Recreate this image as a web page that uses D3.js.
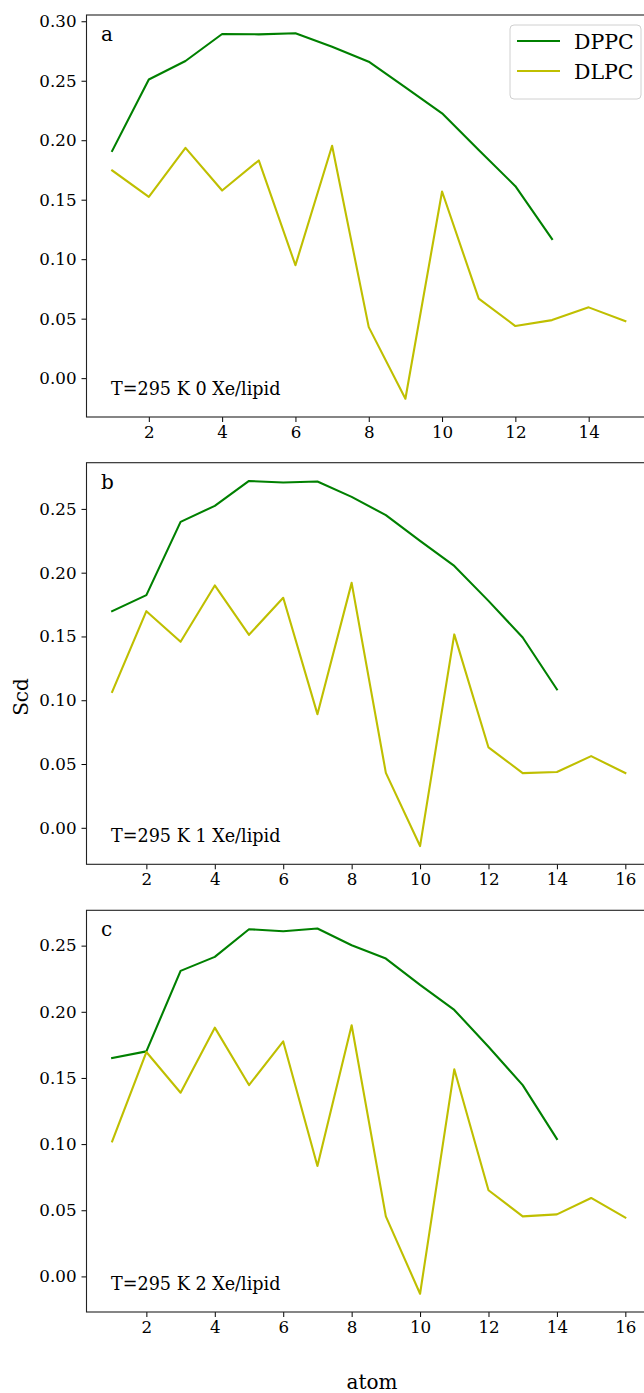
<!DOCTYPE html>
<html>
<head>
<meta charset="utf-8">
<script src="https://cdn.jsdelivr.net/npm/d3@7"></script>
<style>
  html, body { margin: 0; padding: 0; background: #fff; }
  svg { display: block; }
  text { font-family: "DejaVu Serif", serif; fill: #000; }
</style>
</head>
<body>
<svg id="fig" width="644" height="1393"></svg>
<script>
// Order parameter Scd per carbon atom, DPPC vs DLPC, three Xe loadings
const panelLabels = ["a", "b", "c"];
const conditions = ["T=295 K 0 Xe/lipid", "T=295 K 1 Xe/lipid", "T=295 K 2 Xe/lipid"];
const seriesNames = ["DPPC", "DLPC"];
const seriesColors = ["#008000", "#bfbf00"];

const dppcA = [0.191, 0.251, 0.2666, 0.2893, 0.289, 0.2899, 0.2786, 0.266, 0.2444, 0.2226, 0.1917, 0.1614, 0.117];
const dlpcA = [0.1746, 0.1524, 0.1936, 0.1577, 0.183, 0.0949, 0.1953, 0.0429, -0.0173, 0.1569, 0.0668, 0.0438, 0.0488, 0.0595, 0.048];

const dppcB = [0.1698, 0.1824, 0.2398, 0.2524, 0.2719, 0.2707, 0.2715, 0.2594, 0.2451, 0.2249, 0.2053, 0.1779, 0.1492, 0.1085];
const dlpcB = [0.1066, 0.1698, 0.1458, 0.19, 0.1513, 0.1803, 0.0891, 0.192, 0.0431, -0.0143, 0.1516, 0.063, 0.0429, 0.0437, 0.0562, 0.0429];

const dppcC = [0.165, 0.1701, 0.2309, 0.2415, 0.2624, 0.2609, 0.2629, 0.2503, 0.2402, 0.2203, 0.2014, 0.1736, 0.1446, 0.1039];
const dlpcC = [0.102, 0.1696, 0.1388, 0.188, 0.1446, 0.1776, 0.0835, 0.1898, 0.0454, -0.0131, 0.1565, 0.0651, 0.0454, 0.0469, 0.0593, 0.0444];

const xTicks = [2, 4, 6, 8, 10, 12, 14, 16];
const yTicksA = [0, 0.05, 0.10, 0.15, 0.20, 0.25, 0.30];
const yTicksBC = [0, 0.05, 0.10, 0.15, 0.20, 0.25];

const panels = [
  { label: panelLabels[0], cond: conditions[0], series: [dppcA, dlpcA], yTicks: yTicksA, top: 15, bottom: 417, legend: true },
  { label: panelLabels[1], cond: conditions[1], series: [dppcB, dlpcB], yTicks: yTicksBC, top: 462.7, bottom: 864.3 },
  { label: panelLabels[2], cond: conditions[2], series: [dppcC, dlpcC], yTicks: yTicksBC, top: 910.3, bottom: 1312 }
];

const svg = d3.select("#fig");
const axLeft = 86.5, axRight = 651;
const tickFont = 16.7;

// pad a numeric extent by 5% on each side
function padded(lo, hi) {
  const m = (hi - lo) * 0.05;
  return [lo - m, hi + m];
}

panels.forEach(p => {
  const all = p.series.flat();
  const nMax = d3.max(p.series, s => s.length);
  const x = d3.scaleLinear().domain(padded(1, nMax)).range([axLeft, axRight]);
  const y = d3.scaleLinear().domain(padded(d3.min(all), d3.max(all))).range([p.bottom, p.top]);

  const g = svg.append("g");

  // curves
  const line = d3.line().x((d, i) => x(i + 1)).y(d => y(d));
  p.series.forEach((s, k) => {
    g.append("path").datum(s)
      .attr("d", line)
      .attr("fill", "none")
      .attr("stroke", seriesColors[k])
      .attr("stroke-width", 2.1)
      .attr("stroke-linejoin", "round")
      .attr("stroke-linecap", "square");
  });

  // axes
  const xAxis = d3.axisBottom(x).tickValues(xTicks.filter(t => t <= nMax)).tickFormat(d3.format("d"))
    .tickSize(5).tickPadding(4);
  const yAxis = d3.axisLeft(y).tickValues(p.yTicks).tickFormat(d3.format(".2f"))
    .tickSize(5).tickPadding(5);

  const gx = g.append("g").attr("transform", `translate(0,${p.bottom})`).call(xAxis);
  const gy = g.append("g").attr("transform", `translate(${axLeft},0)`).call(yAxis);
  [gx, gy].forEach(a => {
    a.select(".domain").remove();
    a.selectAll(".tick line").attr("stroke", "#000").attr("stroke-width", 1);
    a.selectAll(".tick text").style("font-family", "DejaVu Serif, serif").style("font-size", tickFont + "px").attr("fill", "#000");
  });

  // frame
  g.append("rect")
    .attr("x", axLeft).attr("y", p.top)
    .attr("width", axRight - axLeft).attr("height", p.bottom - p.top)
    .attr("fill", "none").attr("stroke", "#222").attr("stroke-width", 1.1);

  // panel letter and condition
  g.append("text").attr("x", 101).attr("y", p.top + 26)
    .style("font-size", "20px").text(p.label);
  g.append("text").attr("x", 111).attr("y", p.bottom - 22)
    .style("font-size", "17.6px").text(p.cond);

  if (p.legend) {
    const lg = g.append("g");
    lg.append("rect").attr("x", 510).attr("y", 25).attr("width", 131).attr("height", 74)
      .attr("rx", 4).attr("fill", "#fff").attr("fill-opacity", 0.8)
      .attr("stroke", "#d0d0d0").attr("stroke-width", 1);
    seriesNames.forEach((name, k) => {
      const yy = 41 + k * 30;
      lg.append("line").attr("x1", 517).attr("x2", 560).attr("y1", yy).attr("y2", yy)
        .attr("stroke", seriesColors[k]).attr("stroke-width", 2.1);
      lg.append("text").attr("x", 574).attr("y", yy + 7.5)
        .style("font-size", "20.5px").text(name);
    });
  }
});

// shared axis titles
svg.append("text").attr("transform", "translate(28,697) rotate(-90)")
  .attr("text-anchor", "middle").style("font-size", "20px").text("Scd");
svg.append("text").attr("x", 372).attr("y", 1389)
  .attr("text-anchor", "middle").style("font-size", "20px").text("atom");
</script>
</body>
</html>
